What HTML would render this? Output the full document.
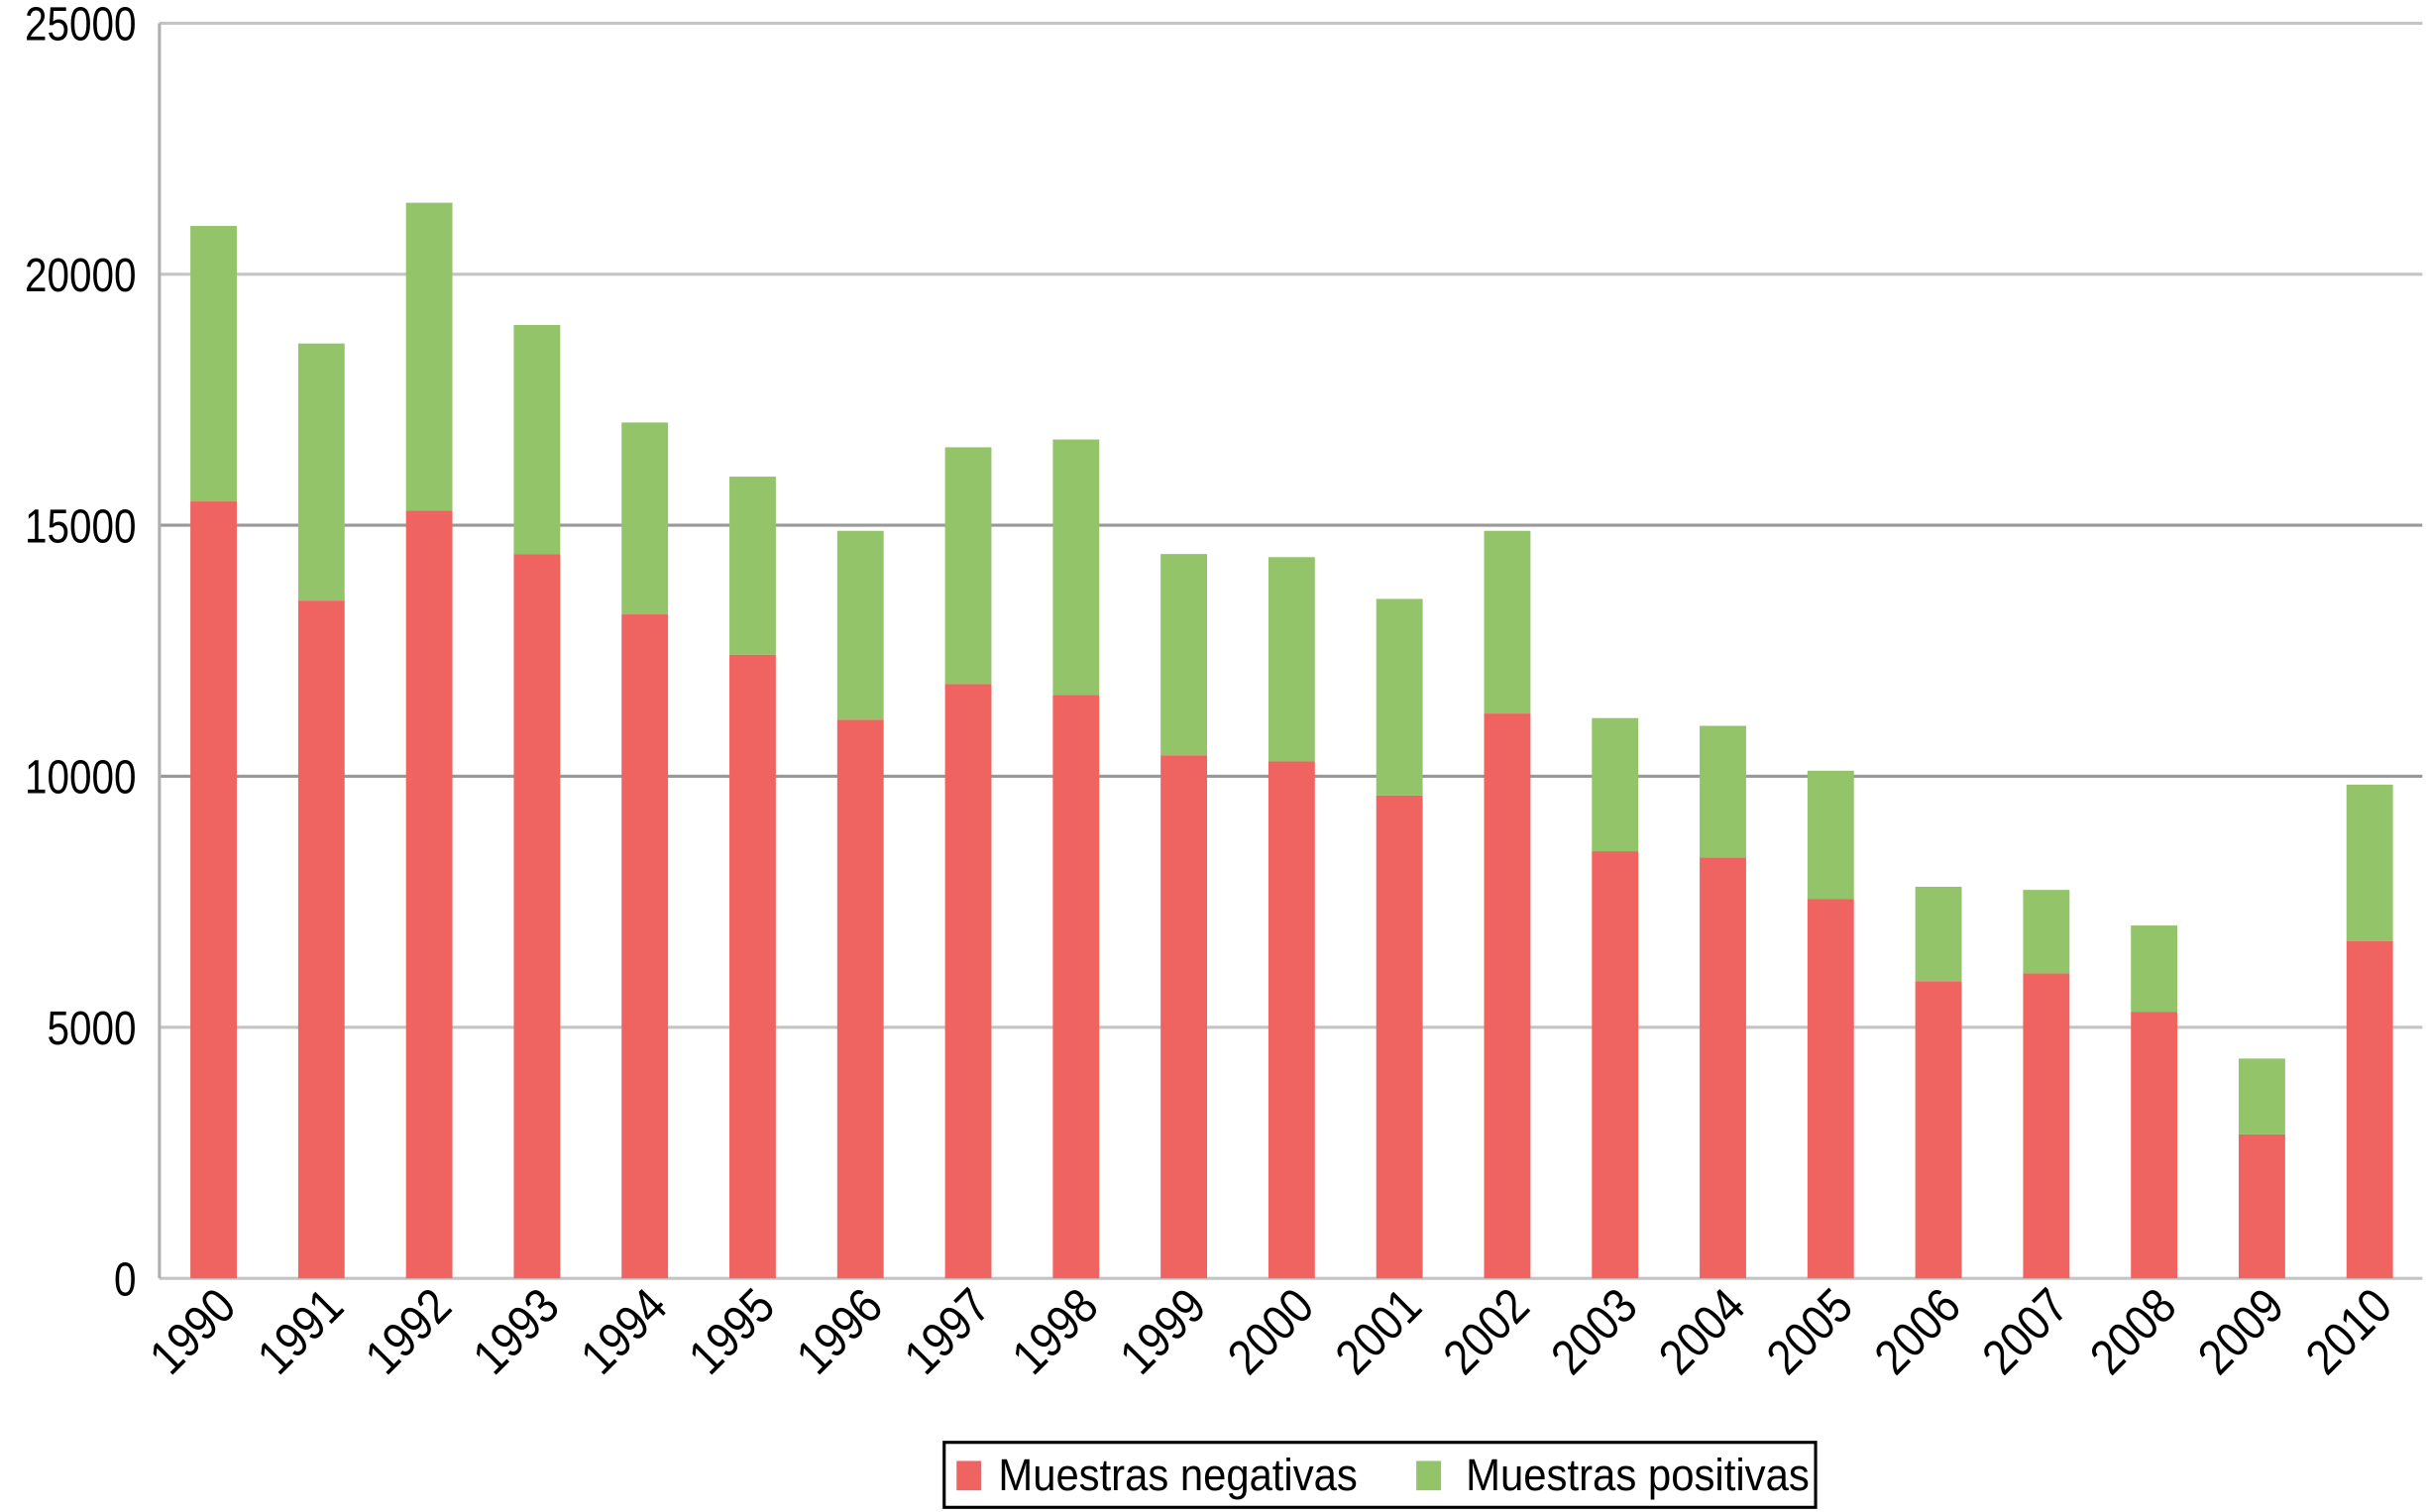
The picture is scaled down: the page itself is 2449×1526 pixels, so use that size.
<!DOCTYPE html>
<html><head><meta charset="utf-8"><style>
html,body{margin:0;padding:0;background:#fff;}
svg{display:block;}
text{font-family:"Liberation Sans",sans-serif;fill:#000;}
</style></head><body>
<svg id="chart" width="2449" height="1526" viewBox="0 0 1568 977" preserveAspectRatio="none" xmlns="http://www.w3.org/2000/svg">
<g id="grid"></g>
<g id="bars"></g>
<g id="yticks"></g>
<g id="xticks"></g>
<g>
<rect x="610" y="932" width="563" height="42" fill="#fff" stroke="#000" stroke-width="2"/>
<rect x="618" y="944" width="16" height="19" fill="#ef6461"/>
<text x="645" y="963" font-size="29" textLength="232" lengthAdjust="spacingAndGlyphs">Muestras negativas</text>
<rect x="915" y="944" width="16" height="19" fill="#93c46a"/>
<text x="947" y="963" font-size="29" textLength="222" lengthAdjust="spacingAndGlyphs">Muestras positivas</text>
</g>
</svg>
<script>
const years = [1990,1991,1992,1993,1994,1995,1996,1997,1998,1999,2000,2001,2002,2003,2004,2005,2006,2007,2008,2009,2010];
const negativas = [15475,13500,15290,14427,13225,12423,11128,11837,11621,10419,10296,9618,11251,8508,8385,7552,5919,6073,5302,2867,6720];
const totals = [20962,18620,21424,18989,17047,15968,14889,16553,16708,14427,14365,13533,14889,11159,11005,10111,7799,7737,7028,4377,9834];
const yTicks = [0,5000,10000,15000,20000,25000];
const NS="http://www.w3.org/2000/svg";
const y0=826, yTop=15, yMax=25000, xL=103, xR=1565, x0=138, step=(1531-138)/20, bw=30;
function yS(v){return y0-(v/yMax)*(y0-yTop);}
function xS(i){return x0+i*step;}
function mk(tag,attrs,parent){const e=document.createElementNS(NS,tag);for(const k in attrs)e.setAttribute(k,attrs[k]);parent.appendChild(e);return e;}
const grid=document.getElementById('grid'),bars=document.getElementById('bars'),yt=document.getElementById('yticks'),xt=document.getElementById('xticks');
yTicks.forEach(v=>{
  const l=mk('line',{x1:xL,x2:xR,y1:yS(v),y2:yS(v),stroke:(v===10000||v===15000)?'#999':'#c4c4c4','stroke-width':2},grid);
  
  
  const len=String(v).length*14.4;
  const t=mk('text',{x:88,y:yS(v)+11,'text-anchor':'end','font-size':31,textLength:len,lengthAdjust:'spacingAndGlyphs'},yt);
  t.textContent=v;
  
  
});
const ax=mk('line',{x1:xL,x2:xL,y1:yTop,y2:y0,stroke:'#b0b0b0','stroke-width':2},grid);


years.forEach((yr,i)=>{
  const cx=xS(i);
  const r1=mk('rect',{x:cx-bw/2,y:yS(negativas[i]),width:bw,height:y0-yS(negativas[i]),fill:'#ef6461'},bars);
  
  
  const r2=mk('rect',{x:cx-bw/2,y:yS(totals[i]),width:bw,height:yS(negativas[i])-yS(totals[i]),fill:'#93c46a'},bars);
  
  
  const t=mk('text',{x:cx+16,y:846,'text-anchor':'end','font-size':32,textLength:62,lengthAdjust:'spacingAndGlyphs',transform:'rotate(-45 '+(cx+16)+' 846)'},xt);
  t.textContent=yr;
  
  
});
</script>
</body></html>
